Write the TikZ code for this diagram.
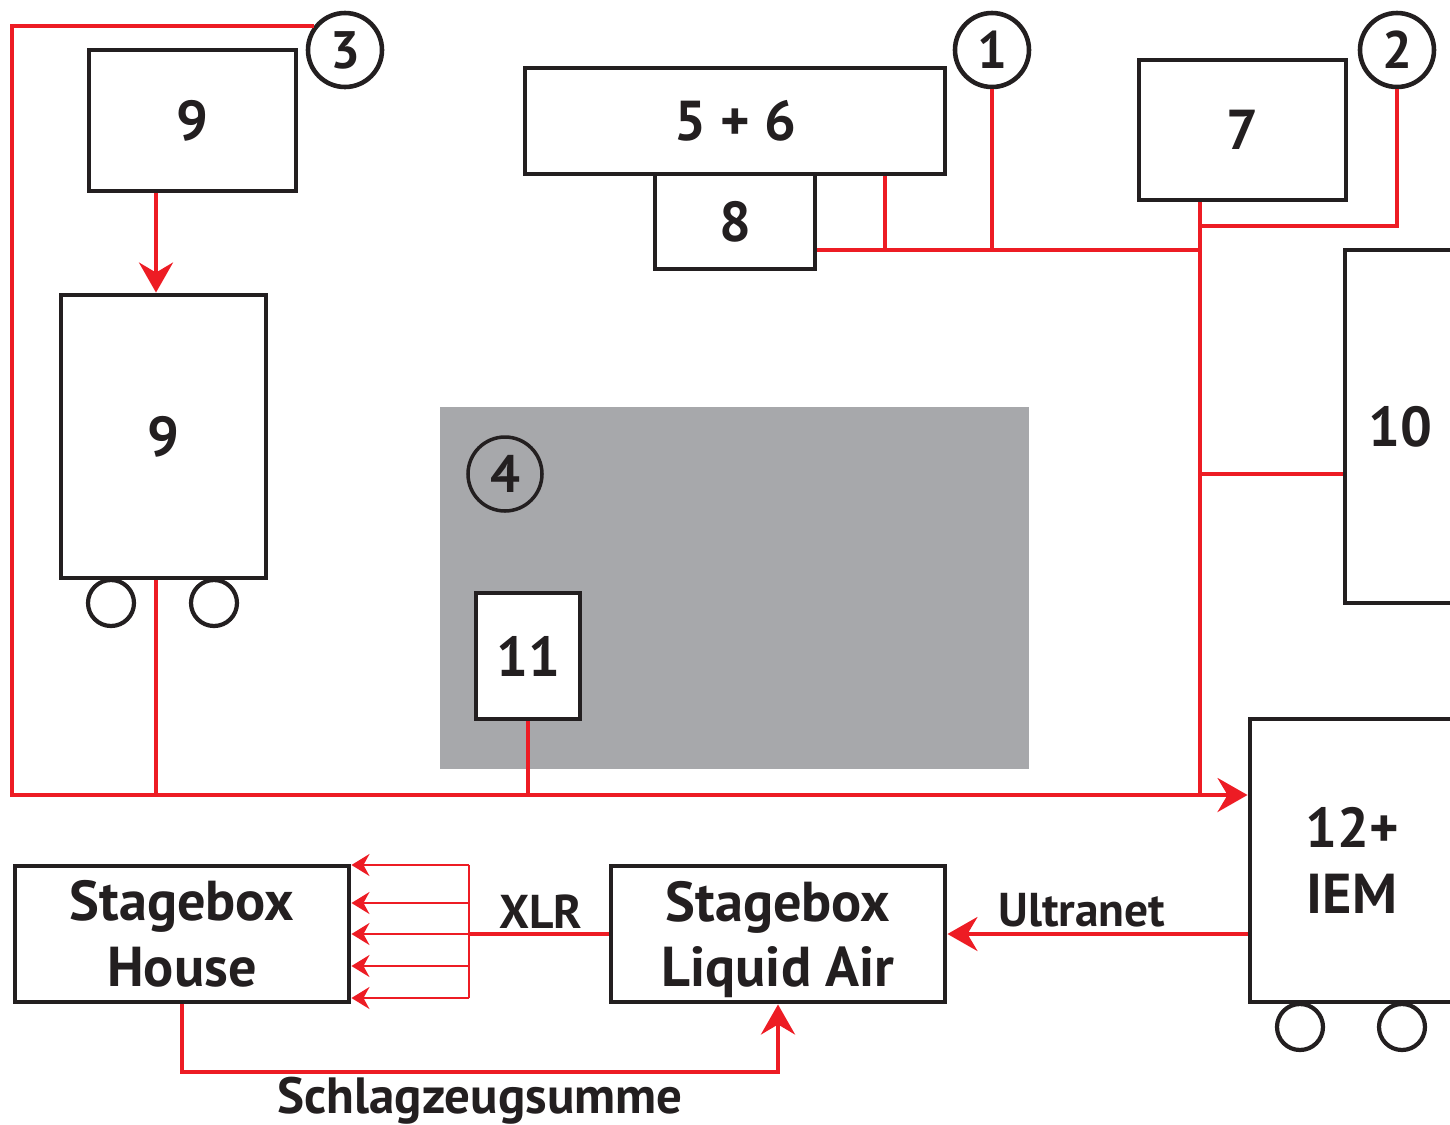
\documentclass[tikz,border=0pt]{standalone}
\usepackage{fontspec}
\setmainfont{PT Sans}
\usetikzlibrary{arrows.meta,calc}
\definecolor{wirered}{HTML}{ED1C24}
\definecolor{inkblack}{HTML}{231F20}
\definecolor{floorgray}{HTML}{A7A8AB}

\begin{document}
\begin{tikzpicture}[x=0.1mm, y=-0.1mm, >={Stealth[length=3mm, width=3.4mm, inset=1mm]},
	box/.style={draw=inkblack, line width=1.4pt, fill=white, inner sep=0pt, text=inkblack, align=center, font=\bfseries\fontsize{16}{18.7}\selectfont},
	num/.style={circle, draw=inkblack, line width=1.3pt, fill=white, minimum size=7.4mm, inner sep=0pt, text=inkblack, font=\bfseries\fontsize{15}{15}\selectfont},
	wheel/.style={circle, draw=inkblack, line width=1.2pt, minimum size=4.6mm, inner sep=0pt},
	wire/.style={draw=wirered, line width=1.15pt},
	thinwire/.style={draw=wirered, line width=0.6pt, >={Stealth[length=1.8mm, width=2.2mm, inset=0.6mm]}},
	lab/.style={text=inkblack, inner sep=0pt, font=\bfseries\fontsize{13.5}{13.5}\selectfont}]
	\useasboundingbox (0,0) rectangle (1450,1124);
	\fill[floorgray] (440,407) rectangle (1029,769);
	\node[box, minimum width=20.7mm, minimum height=14.1mm] (b9top) at (192.5,120.5) {9};
	\node[box, minimum width=20.5mm, minimum height=28.3mm] (b9big) at (163.5,436.5) {9};
	\node[wheel] (w9a) at (111,603) {};
	\node[wheel] (w9b) at (214,603) {};
	\node[box, minimum width=42mm, minimum height=10.6mm] (b56) at (735,121) {5 + 6};
	\node[box, minimum width=16mm, minimum height=9.5mm] (b8) at (735,221.5) {8};
	\node[box, minimum width=20.7mm, minimum height=14mm] (b7) at (1242.5,130) {7};
	\node[box, minimum width=11mm, minimum height=35.3mm] (b10) at (1400,426.5) {10};
	\node[box, minimum width=10.4mm, minimum height=12.6mm] (b11) at (528,656) {11};
	\node[box, minimum width=20.4mm, minimum height=28.3mm] (iem) at (1352,860.5) {12+\\IEM};
	\node[wheel] (wia) at (1300,1027) {};
	\node[wheel] (wib) at (1402,1027) {};
	\node[box, minimum width=33.4mm, minimum height=13.6mm] (sbh) at (182,934) {Stagebox\\House};
	\node[box, minimum width=33.4mm, minimum height=13.6mm] (sbla) at (778,934) {Stagebox\\\smash{Liquid Air}};
	\node[num] (n3) at (345,50) {3};
	\node[num] (n1) at (992,50) {1};
	\node[num] (n2) at (1397,50) {2};
	\node[num, line width=1pt, fill=none] (n4) at (505,474) {4};
	\coordinate (cornerTL) at (12,27);
	\coordinate (cornerBL) at (12,795);
	\coordinate (j9) at (156,795);
	\coordinate (jR) at (1200,795);
	\coordinate (bus1) at (1200,250);
	\coordinate (bus2) at (1200,226);
	\coordinate (t56) at (885,250);
	\coordinate (t10) at (1200,474);
	\coordinate (fan) at (469,934);
	\draw[wire, ->] (n3.142) -- (cornerTL |- n3.142) -- (cornerBL) -- (iem.west |- cornerBL);
	\draw[wire, ->] (b9top.south -| j9) -- (b9big.north -| j9);
	\draw[wire] (b9big.south -| j9) -- (j9);
	\draw[wire] (b11.south) -- (b11.south |- cornerBL);
	\draw[wire] (b7.south -| jR) -- (jR);
	\draw[wire] (b8.east |- bus1) -- (bus1);
	\draw[wire] (b56.south -| t56) -- (t56);
	\draw[wire] (n1.south) -- (n1.south |- bus1);
	\draw[wire] (n2.south) |- (bus2);
	\draw[wire] (t10) -- (t10 -| b10.west);
	\draw[wire, ->] (iem.west |- sbla.east) -- (sbla.east);
	\node[lab] (ultra) at (1082,910) {Ultranet};
	\draw[wire] (sbla.west) -- (fan);
	\draw[thinwire] ($(fan)+(0,-69)$) -- ($(fan)+(0,64)$);
	\foreach \dy in {-69,-31,0,32,64}
		\draw[thinwire, ->] ($(fan)+(0,\dy)$) -- ($(sbh.east |- fan)+(0,\dy)$);
	\node[lab] (xlr) at (541,912) {XLR};
	\draw[wire, ->] (sbh.south) -- ++(0,68) -| (sbla.south);
	\node[lab, font=\bfseries\fontsize{14.5}{14.5}\selectfont] (sum) at (480,1101) {Schlagzeugsumme};
\end{tikzpicture}
\end{document}
